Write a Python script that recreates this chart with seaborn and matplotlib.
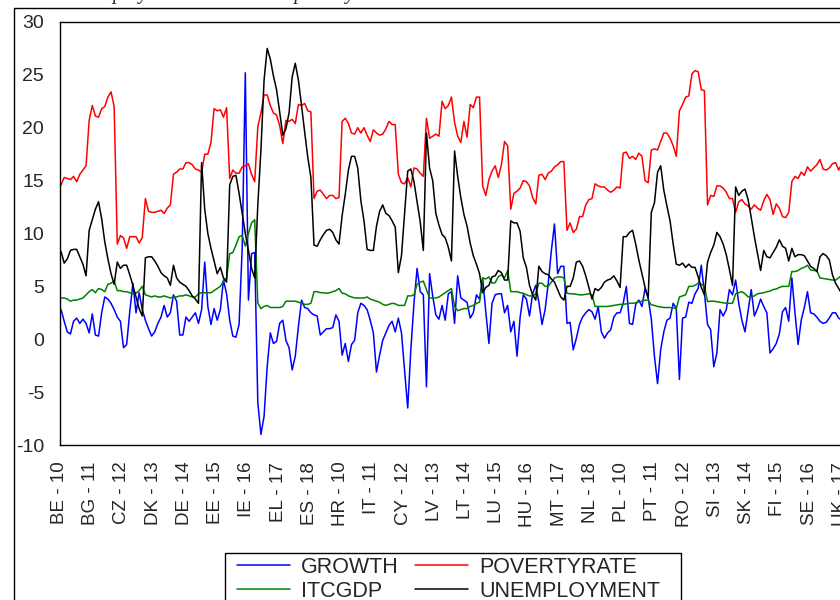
import matplotlib
matplotlib.use("Agg")
import matplotlib.pyplot as plt
from matplotlib.lines import Line2D
from matplotlib.patches import Rectangle
import seaborn as sns
import pandas as pd
import numpy as np

# %%
# panel: 28 countries x 2010-2018
countries = ['BE', 'BG', 'CZ', 'DK', 'DE', 'EE', 'IE', 'EL', 'ES', 'FR', 'HR', 'IT', 'CY', 'LV',
             'LT', 'LU', 'HU', 'MT', 'NL', 'AT', 'PL', 'PT', 'RO', 'SI', 'SK', 'FI', 'SE', 'UK']
years = ['10', '11', '12', '13', '14', '15', '16', '17', '18']

growth = [
    2.8, 1.7, 0.7, 0.5, 1.7, 2.0, 1.5, 1.9, 1.5,        # BE
    0.6, 2.4, 0.4, 0.3, 2.5, 4.0, 3.8, 3.4, 2.8,        # BG
    2.1, 1.7, -0.8, -0.5, 2.6, 5.3, 2.5, 4.4, 2.8,      # CZ
    1.8, 1.0, 0.3, 0.7, 1.5, 2.1, 3.2, 2.1, 2.5,        # DK
    4.2, 3.6, 0.4, 0.4, 2.1, 1.7, 2.1, 2.5, 1.5,        # DE
    2.8, 7.3, 3.1, 1.4, 2.9, 1.8, 2.8, 5.6, 4.3,        # EE
    1.8, 0.3, 0.2, 1.4, 8.6, 25.2, 3.7, 8.1, 8.2,       # IE
    -6.0, -9.0, -7.3, -2.6, 0.6, -0.4, -0.2, 1.5, 1.8,  # EL
    -0.1, -0.8, -2.9, -1.6, 1.2, 3.7, 3.0, 2.9, 2.5,    # ES
    2.3, 2.2, 0.4, 0.7, 1.0, 1.0, 1.1, 2.3, 1.7,        # FR
    -1.5, -0.4, -2.1, -0.5, -0.1, 2.5, 3.4, 3.2, 2.8,   # HR
    1.8, 0.6, -3.1, -1.5, -0.1, 0.6, 1.3, 1.7, 0.7,     # IT
    2.0, 0.6, -2.9, -6.5, -1.0, 3.4, 6.7, 4.5, 4.2,     # CY
    -4.5, 6.2, 4.1, 2.3, 1.9, 3.2, 1.8, 4.3, 4.5,       # LV
    1.5, 6.0, 3.9, 3.7, 3.5, 2.0, 2.5, 4.2, 3.8,        # LT
    5.8, 2.6, -0.4, 3.4, 4.2, 4.3, 4.3, 2.5, 3.2,       # LU
    0.7, 1.7, -1.6, 2.1, 4.2, 3.8, 2.2, 4.3, 5.1,       # HU
    3.5, 1.4, 2.8, 5.3, 8.4, 10.9, 6.2, 6.9, 6.9,       # MT
    1.5, 1.6, -1.0, 0.1, 1.4, 2.1, 2.5, 2.8, 2.6,       # NL
    1.9, 3.1, 0.7, 0.1, 0.6, 0.9, 2.1, 2.5, 2.5,        # AT
    3.4, 5.0, 1.5, 1.4, 3.3, 3.7, 3.1, 4.8, 3.9,        # PL
    1.9, -1.6, -4.2, -1.0, 0.7, 1.8, 2.0, 3.4, 2.9,     # PT
    -3.8, 2.0, 2.1, 3.5, 3.4, 4.3, 4.8, 7.0, 4.4,       # RO
    1.4, 0.9, -2.6, -1.3, 2.8, 2.2, 2.8, 4.7, 4.2,      # SI
    5.6, 3.4, 1.8, 0.7, 2.7, 4.7, 2.2, 2.9, 3.8,        # SK
    3.1, 2.5, -1.3, -0.9, -0.4, 0.5, 2.6, 3.0, 1.7,     # FI
    5.8, 2.5, -0.5, 1.8, 3.0, 4.5, 2.5, 2.4, 2.1,       # SE
    1.7, 1.5, 1.6, 2.0, 2.5, 2.5, 2.0, 1.8, 1.4,        # UK
]

povertyrate = [
    14.6, 15.3, 15.2, 15.1, 15.4, 14.9, 15.6, 16.0, 16.4,
    20.7, 22.1, 21.1, 21.0, 21.8, 22.0, 22.9, 23.4, 22.0,
    9.0, 9.8, 9.6, 8.6, 9.7, 9.7, 9.7, 9.1, 9.6,
    13.3, 12.1, 12.0, 12.0, 12.1, 12.2, 11.9, 12.4, 12.7,
    15.6, 15.8, 16.1, 16.1, 16.7, 16.7, 16.5, 16.1, 16.0,
    15.8, 17.5, 17.5, 18.6, 21.8, 21.6, 21.7, 21.0, 21.9,
    15.2, 16.0, 15.7, 15.7, 16.3, 16.4, 16.6, 15.6, 14.9,
    20.1, 21.4, 23.1, 23.1, 22.1, 21.4, 21.2, 20.2, 18.5,
    20.7, 20.6, 20.8, 20.4, 22.2, 22.1, 22.3, 21.6, 21.5,
    13.3, 14.0, 14.1, 13.7, 13.3, 13.6, 13.6, 13.3, 13.4,
    20.6, 20.9, 20.4, 19.5, 19.4, 20.0, 19.5, 20.0, 19.3,
    18.7, 19.8, 19.5, 19.3, 19.4, 19.9, 20.6, 20.3, 20.3,
    15.6, 14.8, 14.7, 15.3, 14.4, 16.2, 16.1, 15.7, 15.4,
    20.9, 19.0, 19.2, 19.4, 19.2, 22.5, 21.8, 22.1, 22.9,
    20.5, 19.2, 18.6, 20.6, 19.1, 22.2, 21.9, 22.9, 22.9,
    14.5, 13.6, 15.1, 15.9, 16.4, 15.3, 16.5, 18.7, 18.3,
    12.3, 13.8, 14.0, 14.3, 15.0, 14.9, 14.5, 13.4, 12.8,
    15.5, 15.6, 15.1, 15.7, 15.9, 16.3, 16.5, 16.8, 16.8,
    10.3, 11.0, 10.1, 10.4, 11.6, 11.6, 12.7, 13.2, 13.3,
    14.7, 14.5, 14.4, 14.4, 14.1, 13.9, 14.1, 14.4, 14.3,
    17.6, 17.7, 17.1, 17.3, 17.0, 17.6, 17.3, 15.0, 14.8,
    17.9, 18.0, 17.9, 18.7, 19.5, 19.5, 19.0, 18.3, 17.3,
    21.6, 22.2, 22.9, 23.0, 25.1, 25.4, 25.3, 23.6, 23.5,
    12.7, 13.6, 13.5, 14.5, 14.5, 14.3, 13.9, 13.3, 13.3,
    12.0, 13.0, 13.2, 12.8, 12.6, 12.3, 12.7, 12.4, 12.2,
    13.1, 13.7, 13.2, 11.8, 12.8, 12.4, 11.6, 11.5, 12.0,
    14.9, 15.4, 15.2, 15.8, 15.5, 16.3, 15.9, 16.2, 16.5,
    17.0, 16.1, 16.0, 16.2, 16.6, 16.7, 16.0, 16.6, 17.0,
]

itcgdp = [
    3.9, 3.9, 3.8, 3.6, 3.7, 3.7, 3.8, 3.9, 4.2,
    4.5, 4.7, 4.4, 4.8, 4.7, 4.5, 5.2, 5.3, 5.5,
    4.6, 4.6, 4.5, 4.5, 4.4, 4.3, 4.35, 4.6, 5.0,
    4.2, 4.1, 4.0, 4.1, 4.0, 4.0, 4.1, 4.0, 3.9,
    4.0, 4.0, 4.1, 4.1, 4.2, 4.1, 4.0, 4.0, 4.3,
    4.4, 4.4, 4.4, 4.4, 4.6, 4.8, 5.0, 5.5, 5.8,
    8.1, 8.2, 8.9, 9.7, 9.8, 8.8, 10.0, 11.0, 11.3,
    3.4, 2.9, 3.1, 3.2, 3.0, 3.0, 3.0, 3.0, 3.1,
    3.6, 3.6, 3.6, 3.6, 3.5, 3.4, 3.3, 3.3, 3.4,
    4.5, 4.5, 4.4, 4.4, 4.35, 4.4, 4.5, 4.6, 4.8,
    4.35, 4.3, 4.1, 4.0, 3.9, 3.9, 3.9, 3.9, 4.0,
    3.8, 3.7, 3.6, 3.5, 3.3, 3.2, 3.3, 3.4, 3.35,
    3.2, 3.2, 3.2, 4.1, 4.1, 4.2, 5.2, 5.4, 5.5,
    4.7, 3.9, 3.9, 3.9, 4.0, 4.2, 4.4, 4.6, 4.8,
    3.1, 2.7, 2.8, 2.9, 2.9, 3.1, 3.2, 3.4, 3.5,
    5.8, 5.7, 5.9, 5.3, 5.35, 5.9, 6.1, 5.8, 6.5,
    4.5, 4.5, 4.5, 4.4, 4.35, 4.2, 4.1, 4.1, 4.3,
    5.3, 5.3, 5.0, 5.0, 5.4, 5.8, 5.9, 5.9, 5.8,
    4.35, 4.3, 4.3, 4.25, 4.2, 4.2, 4.25, 4.3, 4.2,
    3.1, 3.1, 3.1, 3.1, 3.1, 3.15, 3.2, 3.25, 3.3,
    3.3, 3.35, 3.4, 3.4, 3.45, 3.55, 3.6, 3.7, 3.7,
    3.25, 3.2, 3.1, 3.05, 3.0, 3.0, 3.0, 2.95, 2.9,
    4.0, 4.1, 4.2, 5.0, 5.0, 5.1, 5.3, 5.2, 5.0,
    3.55, 3.6, 3.6, 3.55, 3.5, 3.45, 3.4, 3.4, 3.4,
    4.3, 4.4, 4.5, 4.3, 4.0, 4.0, 4.1, 4.3, 4.35,
    4.4, 4.5, 4.55, 4.7, 4.75, 4.9, 5.0, 5.0, 5.0,
    6.4, 6.4, 6.5, 6.7, 6.8, 7.0, 6.55, 6.5, 6.5,
    5.8, 5.75, 5.7, 5.65, 5.6, 5.6, 5.8, 6.1, 6.2,
]

unemployment = [
    8.3, 7.2, 7.6, 8.4, 8.5, 8.5, 7.8, 7.1, 6.0,
    10.3, 11.3, 12.3, 13.0, 11.4, 9.2, 7.6, 6.2, 5.2,
    7.3, 6.7, 7.0, 7.0, 6.1, 5.1, 4.0, 2.9, 2.2,
    7.7, 7.8, 7.8, 7.4, 6.9, 6.3, 6.0, 5.8, 5.1,
    7.0, 5.8, 5.4, 5.2, 5.0, 4.6, 4.1, 3.8, 3.4,
    16.7, 12.3, 10.0, 8.6, 7.4, 6.2, 6.8, 5.8, 5.4,
    14.6, 15.4, 15.5, 13.8, 11.9, 10.0, 8.4, 6.7, 5.8,
    12.7, 17.9, 24.5, 27.5, 26.5, 24.9, 23.6, 21.5, 19.3,
    19.9, 21.4, 24.8, 26.1, 24.5, 22.1, 19.6, 17.2, 15.3,
    8.9, 8.8, 9.4, 9.9, 10.3, 10.4, 10.1, 9.4, 9.0,
    11.7, 13.7, 16.0, 17.3, 17.3, 16.2, 13.1, 11.2, 8.5,
    8.4, 8.4, 10.7, 12.1, 12.7, 11.9, 11.7, 11.2, 10.6,
    6.3, 7.9, 11.9, 15.9, 16.1, 14.9, 13.0, 11.1, 8.4,
    19.5, 16.2, 15.0, 11.9, 10.8, 9.9, 9.6, 8.7, 7.4,
    17.8, 15.4, 13.4, 11.8, 10.7, 9.1, 7.9, 7.1, 6.2,
    4.4, 4.9, 5.1, 5.9, 6.0, 6.5, 6.3, 5.6, 5.6,
    11.2, 11.0, 11.0, 10.2, 7.7, 6.8, 5.1, 4.2, 3.7,
    6.9, 6.4, 6.2, 6.1, 5.7, 5.4, 4.7, 4.0, 3.7,
    5.0, 5.0, 5.8, 7.3, 7.4, 6.9, 6.0, 4.9, 3.8,
    4.8, 4.6, 4.9, 5.4, 5.6, 5.7, 6.0, 5.5, 4.9,
    9.7, 9.7, 10.1, 10.3, 9.0, 7.5, 6.2, 4.9, 3.9,
    12.0, 12.9, 15.8, 16.4, 14.1, 12.6, 11.2, 9.0, 7.1,
    7.0, 7.2, 6.8, 7.1, 6.8, 6.8, 5.9, 4.9, 4.2,
    7.3, 8.2, 8.9, 10.1, 9.7, 9.0, 8.0, 6.6, 5.1,
    14.4, 13.6, 14.0, 14.2, 13.2, 11.5, 9.7, 8.1, 6.5,
    8.4, 7.8, 7.7, 8.2, 8.7, 9.4, 8.8, 8.6, 7.4,
    8.6, 7.8, 8.0, 8.0, 7.9, 7.4, 6.9, 6.7, 6.4,
    7.8, 8.1, 7.9, 7.5, 6.1, 5.3, 4.8, 4.3, 4.0,
]

series_names = ['GROWTH', 'POVERTYRATE', 'ITCGDP', 'UNEMPLOYMENT']
colors = {'GROWTH': '#0000ff', 'POVERTYRATE': '#ff0000',
          'ITCGDP': '#008000', 'UNEMPLOYMENT': '#000000'}

# %%
obs = [c + ' - ' + y for c in countries for y in years]
df = pd.DataFrame({'t': np.arange(len(obs)), 'GROWTH': growth, 'POVERTYRATE': povertyrate,
                   'ITCGDP': itcgdp, 'UNEMPLOYMENT': unemployment})
long = df.melt(id_vars='t', var_name='series', value_name='value')

sns.set_style('white')
plt.rcParams['font.family'] = ['Liberation Sans', 'DejaVu Sans']

fig = plt.figure(figsize=(8.4, 6.0), dpi=100)
ax = fig.add_axes([59.5 / 840, 155 / 600, 787 / 840, 423 / 600])

sns.lineplot(data=long, x='t', y='value', hue='series', hue_order=series_names,
             palette=colors, linewidth=1.1, estimator=None, legend=False, ax=ax)

ax.set_xlim(-0.5, len(obs) - 0.5)
ax.set_ylim(-10, 30)
ax.set_yticks(range(-10, 31, 5))
ax.set_yticklabels([str(v) for v in range(-10, 31, 5)], fontsize=14)

# ticks sit on observation boundaries, one label every 10 obs
major = np.arange(0, len(obs), 10)
ax.set_xticks(major - 0.5)
ax.set_xticklabels([obs[i] for i in major], rotation=90, fontsize=13.5)
ax.set_xticks(np.arange(5, len(obs), 10) - 0.5, minor=True)
ax.tick_params(axis='both', which='both', direction='out', length=8, width=1, color='black')
ax.tick_params(axis='x', which='major', pad=4)
ax.tick_params(axis='y', pad=3)
ax.set_xlabel('')
ax.set_ylabel('')
for s in ax.spines.values():
    s.set_color('black')
    s.set_linewidth(1)

# legend below the plot, in its own box
handles = [Line2D([], [], color=colors[n], lw=1.1) for n in ['GROWTH', 'ITCGDP', 'POVERTYRATE', 'UNEMPLOYMENT']]
fig.legend(handles, ['GROWTH', 'ITCGDP', 'POVERTYRATE', 'UNEMPLOYMENT'], loc='upper left',
           bbox_to_anchor=(237 / 840, 1 - 557 / 600), ncol=2, frameon=False, fontsize=15.5,
           handlelength=2.45, handletextpad=0.5, columnspacing=0.8, borderpad=0,
           borderaxespad=0, labelspacing=0.12)
fig.add_artist(Rectangle((225 / 840, -0.05), (681 - 225) / 840, 47 / 600 + 0.05,
                         transform=fig.transFigure, fill=False, ec='black', lw=1))

# page frame and cut-off caption from the source document
fig.add_artist(Rectangle((14 / 840, -0.1), 1.2, 592 / 600 + 0.1,
                         transform=fig.transFigure, fill=False, ec='black', lw=1))
fig.text(65 / 840, 1 + 1 / 600, 'Unemployment rate and the poverty rate', fontsize=14.5,
         family='Liberation Serif', style='italic', va='baseline')

plt.savefig('out.png', dpi=100, facecolor='white')
